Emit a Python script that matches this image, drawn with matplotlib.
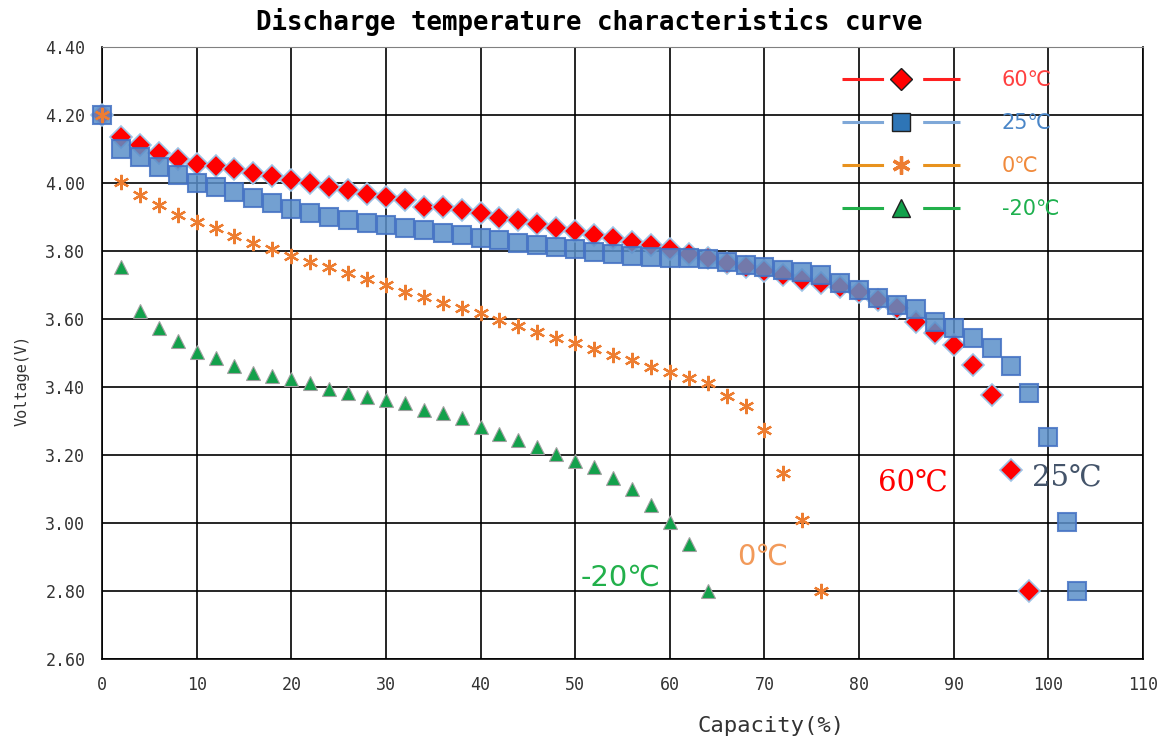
import matplotlib
matplotlib.use("Agg")
import matplotlib.pyplot as plt
from matplotlib.lines import Line2D
from matplotlib.ticker import FormatStrFormatter

# capacity (%) steps
cap_60 = list(range(0, 100, 2))
cap_25 = list(range(0, 104, 2)) + [103]
cap_0 = list(range(0, 78, 2))
cap_m20 = list(range(2, 66, 2))

# voltage readings
v_60 = [4.20, 4.135, 4.111, 4.089, 4.072, 4.057, 4.050, 4.040, 4.030, 4.020,
        4.010, 4.000, 3.989, 3.979, 3.967, 3.959, 3.950, 3.930, 3.930, 3.920,
        3.911, 3.896, 3.891, 3.879, 3.868, 3.859, 3.847, 3.839, 3.827, 3.818,
        3.805, 3.790, 3.778, 3.766, 3.754, 3.742, 3.729, 3.715, 3.705, 3.695,
        3.680, 3.656, 3.632, 3.592, 3.558, 3.524, 3.465, 3.377, 3.155, 2.800]
v_25 = [4.20, 4.100, 4.077, 4.047, 4.025, 4.000, 3.989, 3.974, 3.955, 3.940,
        3.925, 3.912, 3.900, 3.891, 3.883, 3.876, 3.868, 3.862, 3.852, 3.847,
        3.838, 3.832, 3.824, 3.818, 3.811, 3.805, 3.798, 3.791, 3.785, 3.781,
        3.778, 3.778, 3.776, 3.768, 3.759, 3.752, 3.744, 3.738, 3.730, 3.705,
        3.685, 3.661, 3.640, 3.630, 3.592, 3.573, 3.543, 3.514, 3.462, 3.382,
        3.254, 3.002, 2.800]
v_0 = [4.20, 4.003, 3.964, 3.935, 3.906, 3.886, 3.867, 3.844, 3.824, 3.805,
       3.785, 3.768, 3.754, 3.734, 3.717, 3.700, 3.680, 3.664, 3.648, 3.632,
       3.617, 3.597, 3.580, 3.563, 3.545, 3.529, 3.511, 3.494, 3.478, 3.460,
       3.445, 3.426, 3.411, 3.374, 3.345, 3.274, 3.147, 3.010, 2.800]
v_m20 = [3.754, 3.625, 3.573, 3.534, 3.502, 3.485, 3.462, 3.442, 3.433,
         3.423, 3.411, 3.394, 3.382, 3.372, 3.362, 3.353, 3.333, 3.323, 3.309,
         3.283, 3.262, 3.244, 3.224, 3.203, 3.183, 3.165, 3.133, 3.100, 3.054,
         3.004, 2.937, 2.800]

labels = ["60℃", "25℃", "0℃", "-20℃"]

mono = ["DejaVu Sans Mono", "DejaVu Sans"]

fig = plt.figure(figsize=(11.65, 7.42), dpi=100)
ax = fig.add_axes([102 / 1165, 1 - 659 / 742, 1041 / 1165, 612 / 742])

c60 = "#FF0000"
c25 = "#5B8FC9"
c0 = "#ED7D31"
cm20 = "#12A14B"

ax.plot(cap_60, v_60, ls="none", marker="D", ms=11, mfc=c60, mec="#9DC3E6", mew=1.2,
        zorder=3, clip_on=False)
ax.plot(cap_25, v_25, ls="none", marker="s", ms=13, mfc=c25, mec="#4472C4", mew=1.5,
        alpha=0.85, zorder=4, clip_on=False)
ax.plot(cap_0, v_0, ls="none", marker=(6, 2, 0), ms=11, mec=c0, mew=1.6, zorder=5,
        clip_on=False)
ax.plot(cap_m20, v_m20, ls="none", marker="^", ms=10, mfc=cm20, mec="#A0A0A0", mew=0.8,
        zorder=5)

ax.set_xlim(0, 110)
ax.set_ylim(2.6, 4.4)
ax.set_xticks(range(0, 111, 10))
ax.set_yticks([2.6 + 0.2 * i for i in range(10)])
ax.yaxis.set_major_formatter(FormatStrFormatter("%.2f"))
ax.grid(True, color="black", lw=1.2)
ax.set_axisbelow(True)
for s in ["left", "bottom", "right"]:
    ax.spines[s].set_color("black")
    ax.spines[s].set_linewidth(1.2)
ax.spines["top"].set_color("#808080")
ax.tick_params(length=0, pad=12, labelsize=12, colors="#333333")
for lab in ax.get_xticklabels() + ax.get_yticklabels():
    lab.set_family(mono)

# curve labels
ax.text(85.7, 3.12, labels[0], color="#FF0000", fontsize=21, family=["DejaVu Serif"],
        ha="center", va="center")
ax.text(102.0, 3.135, labels[1], color="#44546A", fontsize=21, family=["DejaVu Serif"],
        ha="center", va="center")
ax.text(69.8, 2.90, labels[2], color="#F29A5A", fontsize=21, family=["DejaVu Sans"],
        ha="center", va="center")
ax.text(54.8, 2.84, labels[3], color="#22B04B", fontsize=21, family=["DejaVu Sans"],
        ha="center", va="center")

# legend
dash = [13.6, 12.8]
handles = [
    Line2D([], [], color="#FF2020", lw=2.2, dashes=dash, marker="D", ms=11,
           mfc="#FF0000", mec="#202020", mew=1),
    Line2D([], [], color="#7FA8D8", lw=2.2, dashes=dash, marker="s", ms=13,
           mfc="#2E75B6", mec="#202020", mew=1),
    Line2D([], [], color="#E8921E", lw=2.2, dashes=dash, marker=(6, 2, 0), ms=13,
           mec="#ED7D31", mew=2.4),
    Line2D([], [], color="#22B04B", lw=2.2, dashes=dash, marker="^", ms=13,
           mfc="#12A14B", mec="#202020", mew=1),
]
leg = ax.legend(handles, labels, loc="upper left", bbox_to_anchor=(0.711, 0.962),
                frameon=False, handlelength=5.67, handletextpad=2.0, labelspacing=1.1,
                borderpad=0, borderaxespad=0, numpoints=1,
                prop={"family": ["DejaVu Sans"], "size": 15})
for txt, col in zip(leg.get_texts(), ["#FF4040", "#4A86C8", "#F08A3C", "#1DB04E"]):
    txt.set_color(col)

fig.text(589 / 1165, 1 - 22 / 742, "Discharge temperature characteristics curve",
         ha="center", va="center", fontsize=18.5, weight="bold", family=mono)
fig.text(771 / 1165, 1 - 726 / 742, "Capacity(%)", ha="center", va="center",
         fontsize=16, family=mono, color="#333333")
fig.text(22 / 1165, 1 - 380 / 742, "Voltage(V)", ha="center", va="center",
         rotation=90, fontsize=11, family=mono, color="#333333")

fig.savefig("out.png", dpi=100)
